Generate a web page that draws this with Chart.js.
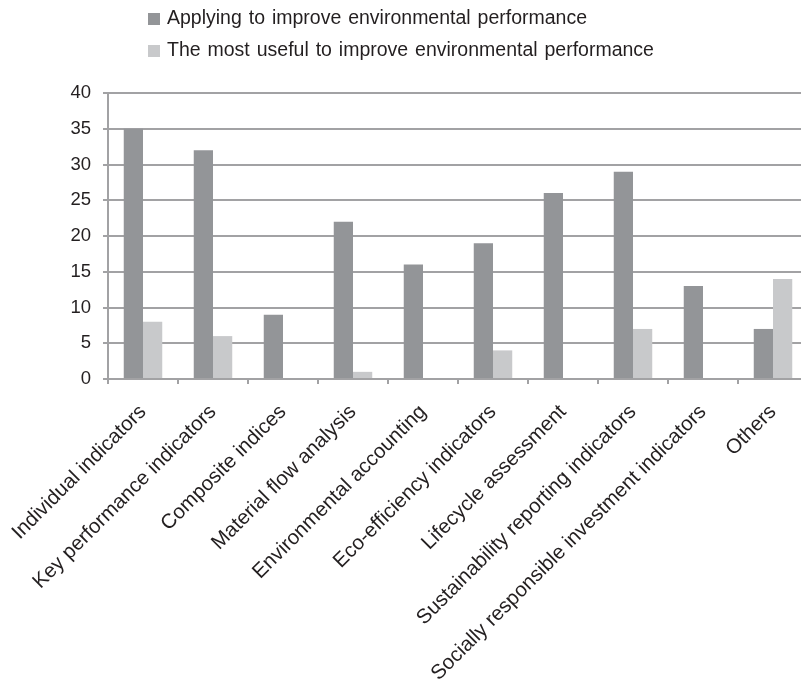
<!DOCTYPE html>
<html>
<head>
<meta charset="utf-8">
<script src="https://cdn.jsdelivr.net/npm/chart.js@4/dist/chart.umd.min.js"></script>
<style>
html, body { margin: 0; padding: 0; background: #fff; overflow: hidden; }
#wrap { position: relative; width: 812px; height: 688px; }
#legend { position: absolute; left: 148px; top: 3px; font-family: 'Liberation Sans', Arial, sans-serif; font-size: 19.5px; word-spacing: 1.5px; color: #231f20; }
#legend .item { height: 32px; line-height: 28px; white-space: nowrap; }
#legend .box { display: inline-block; width: 12px; height: 12px; margin-right: 7px; vertical-align: -1px; }
</style>
</head>
<body>
<div id="wrap">
  <canvas id="chart" width="812" height="688"></canvas>
  <div id="legend"></div>
</div>
<script>
var categories = ["Individual indicators", "Key performance indicators", "Composite indices",
  "Material flow analysis", "Environmental accounting", "Eco-efficiency indicators",
  "Lifecycle assessment", "Sustainability reporting indicators",
  "Socially responsible investment indicators", "Others"];
var applying = [35, 32, 9, 22, 16, 19, 26, 29, 13, 7];
var mostUseful = [8, 6, 0, 1, 0, 4, 0, 7, 0, 14];
var yTicks = [0, 5, 10, 15, 20, 25, 30, 35, 40];

var seriesNames = ["Applying to improve environmental performance",
  "The most useful to improve environmental performance"];
var colors = ["#939598", "#c8c9cb"];

var tickFont = { family: "'Liberation Sans', Arial, sans-serif", size: 18.5 };
var labelFont = { family: "'Liberation Sans', Arial, sans-serif", size: 20.5 };

var data1 = {
  labels: categories,
  datasets: [
    { label: seriesNames[0], backgroundColor: colors[0], data: applying },
    { label: seriesNames[1], backgroundColor: colors[1], data: mostUseful }
  ]
};

var chart1 = new Chart(document.getElementById("chart"), {
  type: "bar",
  data: data1,
  options: {
    responsive: false,
    animation: false,
    layout: { padding: { top: 93, right: 4, bottom: 0, left: 0 } },
    plugins: { legend: { display: false }, tooltip: { enabled: false } },
    datasets: { bar: { categoryPercentage: 0.55, barPercentage: 1 } },
    scales: {
      x: {
        offset: true,
        afterFit: function (scale) {
          // fixed axis box, labels may run past the plot edges
          scale.height = 309;
          scale.paddingLeft = 0;
          scale.paddingRight = 0;
        },
        grid: { display: true, offset: true, drawOnChartArea: false, color: "#a2a2a4", lineWidth: 2, tickLength: 5 },
        border: { color: "#a2a2a4", width: 2 },
        ticks: { color: "#231f20", font: labelFont, minRotation: 45, maxRotation: 45, autoSkip: false, padding: 16 }
      },
      y: {
        min: 0, max: 40,
        afterFit: function (scale) { scale.width = 108; },
        afterBuildTicks: function (scale) { scale.ticks = yTicks.map(function (v) { return { value: v }; }); },
        grid: { color: "#a2a2a4", lineWidth: 2, tickLength: 5 },
        border: { color: "#a2a2a4", width: 2 },
        ticks: { color: "#231f20", font: tickFont, padding: 12 }
      }
    }
  }
});

var legend = document.getElementById("legend");
for (var i = 0; i < seriesNames.length; i++) {
  var row = document.createElement("div");
  row.className = "item";
  row.innerHTML = '<span class="box" style="background:' + colors[i] + '"></span>' + seriesNames[i];
  legend.appendChild(row);
}
</script>
</body>
</html>
